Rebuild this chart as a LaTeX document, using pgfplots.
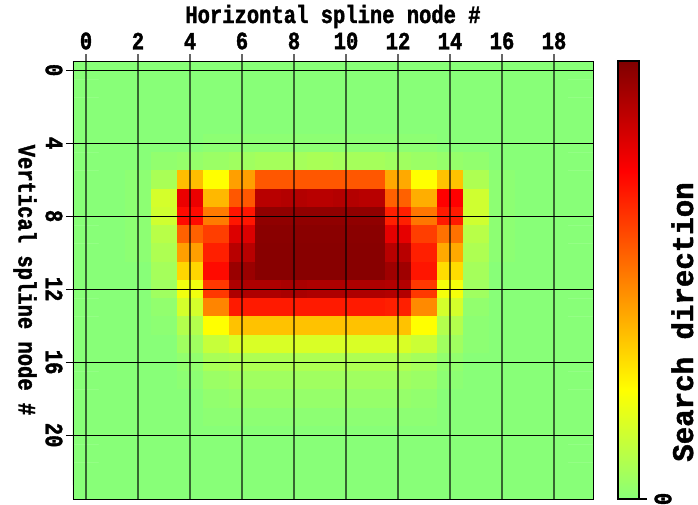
\documentclass[border=0pt]{standalone}
\usepackage{pgfplots}
\pgfplotsset{compat=1.18}
\usepackage{fontspec}
\newfontfamily\labfamily{Liberation Mono}[UprightFont={* Bold}, FakeStretch=0.82, FakeBold=1.5]
\newfontfamily\capfamily{Liberation Mono}[UprightFont={* Bold}, FakeStretch=0.97, FakeBold=1.5]
\newcommand\lab{\labfamily\fontsize{25}{25}\selectfont}
\newcommand\barcap{\capfamily\fontsize{30}{30}\selectfont}

% green -> yellow -> orange -> red -> dark red
\pgfplotsset{colormap={searchdir}{rgb255(0cm)=(136,255,120); rgb255(1cm)=(255,255,0);
    rgb255(2cm)=(255,128,0); rgb255(3cm)=(255,0,0); rgb255(4cm)=(128,0,0)}}

\begin{document}
\begin{tikzpicture}
\useasboundingbox (0,0) rectangle (698pt,504pt);
\begin{axis}[
  at={(73pt,5pt)}, anchor=south west,
  scale only axis, width=520pt, height=438pt,
  xmin=-0.5, xmax=19.5, ymin=-0.5, ymax=23.5,
  y dir=reverse,
  axis on top,
  colormap name=searchdir,
  point meta min=0, point meta max=1,
  xtick={0,2,...,18}, ytick={0,4,...,20},
  xtick pos=right, xticklabel pos=right,
  ytick pos=left, yticklabel pos=left,
  tick align=outside, major tick length=7pt,
  /pgf/number format/assume math mode=true,
  tick label style={font=\lab},
  xticklabel style={yshift=1pt},
  yticklabel style={rotate=-90, anchor=north},
  grid=major,
  x grid style={black, opacity=0.6, line width=1.6pt},
  y grid style={black, line width=0.9pt},
  xtick style={black, opacity=0.6, line width=1.4pt},
  ytick style={black, line width=0.9pt},
  axis line style={black, line width=0.8pt},
  xlabel={Horizontal spline node \#},
  ylabel={Vertical spline node \#},
  every axis x label/.style={at={(axis description cs:0.5,1)}, anchor=base, yshift=38pt, font=\lab},
  every axis y label/.style={at={(axis description cs:-0.0923,0.5)}, anchor=center, rotate=-90, font=\lab},
]
\addplot[matrix plot*, mesh/cols=20, point meta=explicit] coordinates {
(0,0)[0] (1,0)[0] (2,0)[0] (3,0)[0] (4,0)[0] (5,0)[0] (6,0)[0] (7,0)[0] (8,0)[0] (9,0)[0] (10,0)[0] (11,0)[0] (12,0)[0] (13,0)[0] (14,0)[0] (15,0)[0] (16,0)[0] (17,0)[0] (18,0)[0] (19,0)[0]
(0,1)[0] (1,1)[0] (2,1)[0] (3,1)[0] (4,1)[0] (5,1)[0] (6,1)[0] (7,1)[0] (8,1)[0] (9,1)[0] (10,1)[0] (11,1)[0] (12,1)[0] (13,1)[0] (14,1)[0] (15,1)[0] (16,1)[0] (17,1)[0] (18,1)[0] (19,1)[0]
(0,2)[0] (1,2)[0] (2,2)[0] (3,2)[0] (4,2)[0] (5,2)[0] (6,2)[0] (7,2)[0] (8,2)[0] (9,2)[0] (10,2)[0] (11,2)[0] (12,2)[0] (13,2)[0] (14,2)[0] (15,2)[0] (16,2)[0] (17,2)[0] (18,2)[0] (19,2)[0]
(0,3)[0] (1,3)[0] (2,3)[0] (3,3)[0] (4,3)[0] (5,3)[0] (6,3)[0] (7,3)[0] (8,3)[0] (9,3)[0] (10,3)[0] (11,3)[0] (12,3)[0] (13,3)[0] (14,3)[0] (15,3)[0] (16,3)[0] (17,3)[0] (18,3)[0] (19,3)[0]
(0,4)[0] (1,4)[0] (2,4)[0] (3,4)[0] (4,4)[0] (5,4)[0.01] (6,4)[0.01] (7,4)[0.01] (8,4)[0.01] (9,4)[0.01] (10,4)[0.01] (11,4)[0.01] (12,4)[0.01] (13,4)[0.01] (14,4)[0] (15,4)[0] (16,4)[0] (17,4)[0] (18,4)[0] (19,4)[0]
(0,5)[0] (1,5)[0] (2,5)[0] (3,5)[0.02] (4,5)[0.03] (5,5)[0.04] (6,5)[0.05] (7,5)[0.06] (8,5)[0.06] (9,5)[0.07] (10,5)[0.06] (11,5)[0.06] (12,5)[0.05] (13,5)[0.04] (14,5)[0.03] (15,5)[0.02] (16,5)[0] (17,5)[0] (18,5)[0] (19,5)[0]
(0,6)[0] (1,6)[0] (2,6)[0.01] (3,6)[0.07] (4,6)[0.38] (5,6)[0.25] (6,6)[0.44] (7,6)[0.58] (8,6)[0.58] (9,6)[0.58] (10,6)[0.58] (11,6)[0.58] (12,6)[0.42] (13,6)[0.25] (14,6)[0.37] (15,6)[0.08] (16,6)[0.01] (17,6)[0] (18,6)[0] (19,6)[0]
(0,7)[0] (1,7)[0] (2,7)[0.01] (3,7)[0.16] (4,7)[0.79] (5,7)[0.39] (6,7)[0.58] (7,7)[0.89] (8,7)[0.90] (9,7)[0.89] (10,7)[0.90] (11,7)[0.89] (12,7)[0.56] (13,7)[0.41] (14,7)[0.75] (15,7)[0.15] (16,7)[0.01] (17,7)[0] (18,7)[0] (19,7)[0]
(0,8)[0] (1,8)[0] (2,8)[0.01] (3,8)[0.15] (4,8)[0.73] (5,8)[0.51] (6,8)[0.71] (7,8)[0.97] (8,8)[0.97] (9,8)[0.97] (10,8)[0.97] (11,8)[0.97] (12,8)[0.69] (13,8)[0.52] (14,8)[0.70] (15,8)[0.15] (16,8)[0.01] (17,8)[0] (18,8)[0] (19,8)[0]
(0,9)[0] (1,9)[0] (2,9)[0.01] (3,9)[0.10] (4,9)[0.56] (5,9)[0.63] (6,9)[0.82] (7,9)[0.98] (8,9)[0.98] (9,9)[0.98] (10,9)[0.98] (11,9)[0.98] (12,9)[0.80] (13,9)[0.63] (14,9)[0.53] (15,9)[0.10] (16,9)[0.01] (17,9)[0] (18,9)[0] (19,9)[0]
(0,10)[0] (1,10)[0] (2,10)[0.01] (3,10)[0.08] (4,10)[0.44] (5,10)[0.69] (6,10)[0.89] (7,10)[0.985] (8,10)[0.985] (9,10)[0.985] (10,10)[0.985] (11,10)[0.985] (12,10)[0.89] (13,10)[0.69] (14,10)[0.42] (15,10)[0.08] (16,10)[0.01] (17,10)[0] (18,10)[0] (19,10)[0]
(0,11)[0] (1,11)[0] (2,11)[0] (3,11)[0.06] (4,11)[0.33] (5,11)[0.73] (6,11)[0.95] (7,11)[0.985] (8,11)[0.985] (9,11)[0.985] (10,11)[0.985] (11,11)[0.985] (12,11)[0.94] (13,11)[0.71] (14,11)[0.32] (15,11)[0.06] (16,11)[0] (17,11)[0] (18,11)[0] (19,11)[0]
(0,12)[0] (1,12)[0] (2,12)[0] (3,12)[0.05] (4,12)[0.22] (5,12)[0.64] (6,12)[0.91] (7,12)[0.91] (8,12)[0.92] (9,12)[0.91] (10,12)[0.91] (11,12)[0.91] (12,12)[0.90] (13,12)[0.64] (14,12)[0.23] (15,12)[0.05] (16,12)[0] (17,12)[0] (18,12)[0] (19,12)[0]
(0,13)[0] (1,13)[0] (2,13)[0] (3,13)[0.02] (4,13)[0.16] (5,13)[0.49] (6,13)[0.70] (7,13)[0.70] (8,13)[0.70] (9,13)[0.70] (10,13)[0.70] (11,13)[0.70] (12,13)[0.69] (13,13)[0.48] (14,13)[0.16] (15,13)[0.02] (16,13)[0] (17,13)[0] (18,13)[0] (19,13)[0]
(0,14)[0] (1,14)[0] (2,14)[0] (3,14)[0.01] (4,14)[0.09] (5,14)[0.25] (6,14)[0.37] (7,14)[0.37] (8,14)[0.37] (9,14)[0.37] (10,14)[0.37] (11,14)[0.37] (12,14)[0.37] (13,14)[0.25] (14,14)[0.09] (15,14)[0.01] (16,14)[0] (17,14)[0] (18,14)[0] (19,14)[0]
(0,15)[0] (1,15)[0] (2,15)[0] (3,15)[0] (4,15)[0.05] (5,15)[0.13] (6,15)[0.17] (7,15)[0.17] (8,15)[0.17] (9,15)[0.17] (10,15)[0.17] (11,15)[0.17] (12,15)[0.17] (13,15)[0.14] (14,15)[0.05] (15,15)[0.01] (16,15)[0] (17,15)[0] (18,15)[0] (19,15)[0]
(0,16)[0] (1,16)[0] (2,16)[0] (3,16)[0] (4,16)[0.02] (5,16)[0.07] (6,16)[0.08] (7,16)[0.08] (8,16)[0.08] (9,16)[0.08] (10,16)[0.08] (11,16)[0.08] (12,16)[0.08] (13,16)[0.06] (14,16)[0.02] (15,16)[0] (16,16)[0] (17,16)[0] (18,16)[0] (19,16)[0]
(0,17)[0] (1,17)[0] (2,17)[0] (3,17)[0] (4,17)[0.01] (5,17)[0.04] (6,17)[0.05] (7,17)[0.05] (8,17)[0.05] (9,17)[0.05] (10,17)[0.05] (11,17)[0.05] (12,17)[0.05] (13,17)[0.04] (14,17)[0.01] (15,17)[0] (16,17)[0] (17,17)[0] (18,17)[0] (19,17)[0]
(0,18)[0] (1,18)[0] (2,18)[0] (3,18)[0] (4,18)[0] (5,18)[0.02] (6,18)[0.03] (7,18)[0.03] (8,18)[0.03] (9,18)[0.03] (10,18)[0.03] (11,18)[0.03] (12,18)[0.03] (13,18)[0.02] (14,18)[0] (15,18)[0] (16,18)[0] (17,18)[0] (18,18)[0] (19,18)[0]
(0,19)[0] (1,19)[0] (2,19)[0] (3,19)[0] (4,19)[0] (5,19)[0.01] (6,19)[0.01] (7,19)[0.01] (8,19)[0.01] (9,19)[0.01] (10,19)[0.01] (11,19)[0.01] (12,19)[0.01] (13,19)[0.01] (14,19)[0] (15,19)[0] (16,19)[0] (17,19)[0] (18,19)[0] (19,19)[0]
(0,20)[0] (1,20)[0] (2,20)[0] (3,20)[0] (4,20)[0] (5,20)[0] (6,20)[0] (7,20)[0] (8,20)[0] (9,20)[0] (10,20)[0] (11,20)[0] (12,20)[0] (13,20)[0] (14,20)[0] (15,20)[0] (16,20)[0] (17,20)[0] (18,20)[0] (19,20)[0]
(0,21)[0] (1,21)[0] (2,21)[0] (3,21)[0] (4,21)[0] (5,21)[0] (6,21)[0] (7,21)[0] (8,21)[0] (9,21)[0] (10,21)[0] (11,21)[0] (12,21)[0] (13,21)[0] (14,21)[0] (15,21)[0] (16,21)[0] (17,21)[0] (18,21)[0] (19,21)[0]
(0,22)[0] (1,22)[0] (2,22)[0] (3,22)[0] (4,22)[0] (5,22)[0] (6,22)[0] (7,22)[0] (8,22)[0] (9,22)[0] (10,22)[0] (11,22)[0] (12,22)[0] (13,22)[0] (14,22)[0] (15,22)[0] (16,22)[0] (17,22)[0] (18,22)[0] (19,22)[0]
(0,23)[0] (1,23)[0] (2,23)[0] (3,23)[0] (4,23)[0] (5,23)[0] (6,23)[0] (7,23)[0] (8,23)[0] (9,23)[0] (10,23)[0] (11,23)[0] (12,23)[0] (13,23)[0] (14,23)[0] (15,23)[0] (16,23)[0] (17,23)[0] (18,23)[0] (19,23)[0]
};
\end{axis}

% colour scale: a narrow axis whose strip runs through the colormap nodes
\begin{axis}[
  at={(618pt,5pt)}, anchor=south west,
  scale only axis, width=21pt, height=438pt,
  xmin=0, xmax=1, ymin=0, ymax=1,
  axis on top,
  colormap name=searchdir,
  point meta min=0, point meta max=1,
  xtick=\empty, ytick={0},
  ytick pos=right, yticklabel pos=right,
  tick align=outside, major tick length=8pt,
  ytick style={black, line width=1.5pt},
  axis line style={black, line width=2.5pt},
  /pgf/number format/assume math mode=true,
  yticklabel shift=4pt,
  yticklabel style={rotate=-90, font=\lab, anchor=south},
]
\addplot[surf, shader=interp, mesh/cols=2, point meta=y] coordinates {
(0,0) (1,0)
(0,0.25) (1,0.25)
(0,0.5) (1,0.5)
(0,0.75) (1,0.75)
(0,1) (1,1)
};
\end{axis}
% colour bar caption, set vertically to the right of the bar
\node[rotate=90, font=\barcap, anchor=base, inner sep=0pt] at (693pt,182pt) {Search direction};
\end{tikzpicture}
\end{document}
